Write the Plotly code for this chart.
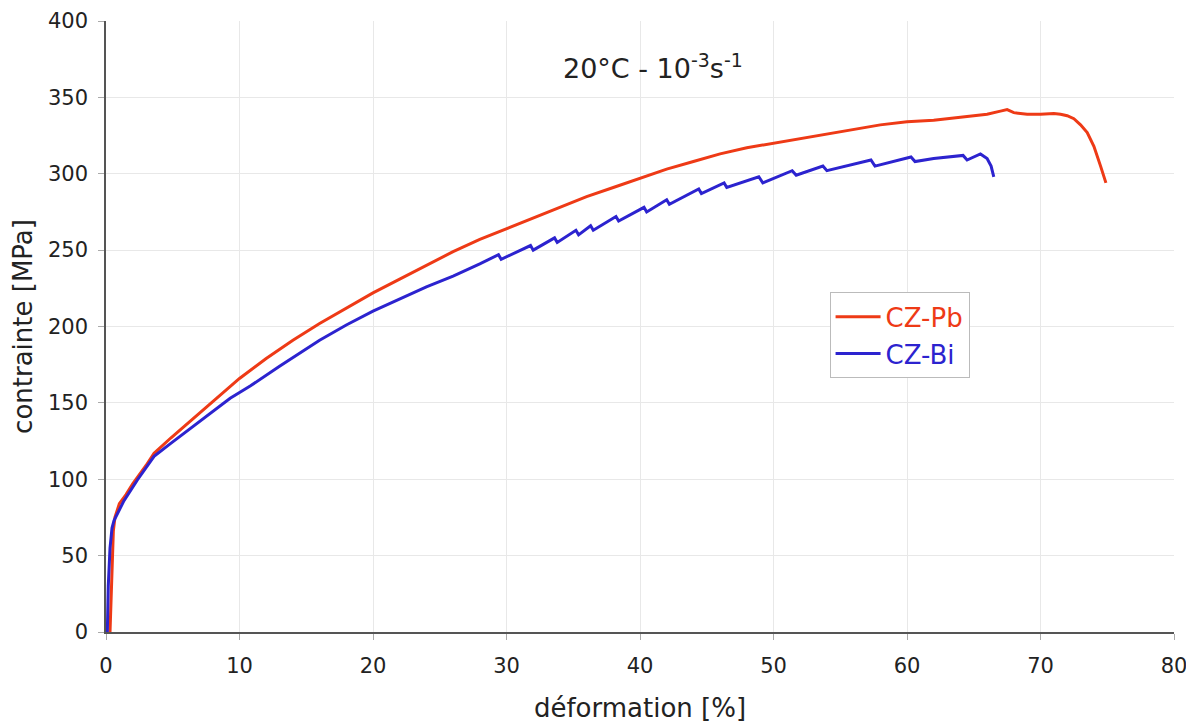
import plotly.graph_objects as go

# CZ-Pb (red) stress-strain curve
pb_strain = [0.3, 0.38, 0.45, 0.55, 0.67, 1.0, 1.5, 2, 3, 3.6, 4.85, 6.3, 7.6, 9, 10, 12, 14, 16, 18,
             20, 22, 24, 26, 28, 30, 32, 34, 36, 38, 40, 42, 44, 46, 48, 50, 52, 54, 56, 58, 60,
             62, 64, 66, 67, 67.5, 68, 69, 70, 71, 71.5, 72, 72.5, 73, 73.5, 74, 74.5, 74.9]
pb_stress = [0, 20, 45, 66, 75, 84, 90, 97, 109, 117, 127, 138, 148, 158, 166, 179, 191, 202, 212,
             222, 231, 240, 249, 257, 264, 271, 278, 285, 291, 297, 303, 308, 313, 317, 320, 323, 326, 329, 332, 334,
             335, 337, 339, 341, 342, 340, 339, 339, 339.5, 339, 338, 336, 332, 327, 318, 305, 294]

# CZ-Bi (blue) stress-strain curve (with serrations)
bi_strain = [0.1, 0.17, 0.3, 0.45, 0.6, 1.35, 2.35, 3.6, 4.85, 6.3, 7.84, 9.3, 10.8, 13, 16, 18, 20, 22, 24, 26,
             26.8, 28, 29.4, 29.6, 31.8, 32.0, 33.6, 33.8, 35.2, 35.4, 36.3, 36.5, 38.2, 38.4, 40.3, 40.5,
             42.0, 42.2, 44.4, 44.6, 46.3, 46.5, 48.9, 49.2, 51.4, 51.7, 53.7, 54.0, 57.3, 57.6, 60.3, 60.6,
             62, 64.2, 64.5, 65.5, 66.0, 66.3, 66.5]
bi_stress = [0, 30, 55, 68, 73, 86, 99.5, 115, 123.5, 133, 143, 153, 161, 174, 191, 201, 210, 218, 226, 233,
             236, 241, 247, 244, 253, 250, 258, 255, 263, 260, 266, 263, 272, 269, 278, 275,
             283, 280, 290, 287, 294, 291, 298, 294, 302, 299, 305, 302, 309, 305, 311, 308,
             310, 312, 309, 313, 310, 305, 298]

x_ticks = [0, 10, 20, 30, 40, 50, 60, 70, 80]
y_ticks = [0, 50, 100, 150, 200, 250, 300, 350, 400]

RED = "#ee3a16"
BLUE = "#2c23cf"
FONT = "DejaVu Sans"

fig = go.Figure()
fig.add_trace(go.Scatter(x=pb_strain, y=pb_stress, mode="lines",
                         line=dict(color=RED, width=3),
                         name=f"<span style='color:{RED}'>CZ-Pb</span>"))
fig.add_trace(go.Scatter(x=bi_strain, y=bi_stress, mode="lines",
                         line=dict(color=BLUE, width=3),
                         name=f"<span style='color:{BLUE}'>CZ-Bi</span>"))

fig.add_annotation(x=41, y=370, text="20°C - 10<sup>-3</sup>s<sup>-1</sup>", showarrow=False,
                   font=dict(family=FONT, size=27, color="#222"))

# page body has an 8px margin; compensate so the plot area lands where the reference has it
fig.update_layout(
    width=1186, height=716,
    margin=dict(l=98, r=20, t=13, b=92),
    paper_bgcolor="white", plot_bgcolor="white",
    font=dict(family=FONT, size=21, color="#222"),
    legend=dict(x=0.6775, y=0.556, xanchor="left", yanchor="top",
                bordercolor="#bbbbbb", borderwidth=1, bgcolor="white",
                font=dict(size=26), tracegroupgap=0, itemwidth=45),
    xaxis=dict(range=[0, 80], tickvals=x_ticks, showgrid=True, gridcolor="#e8e8e8",
               showline=True, linecolor="#555", linewidth=1.5, ticks="outside",
               ticklen=6, tickcolor="#aaa", zeroline=False, automargin=False,
               ticklabelstandoff=8,
               title=dict(text="déformation [%]", font=dict(size=26), standoff=22)),
    yaxis=dict(range=[0, 400], tickvals=y_ticks, showgrid=True, gridcolor="#e8e8e8",
               showline=True, linecolor="#555", linewidth=1.5, ticks="outside",
               ticklen=6, tickcolor="#aaa", zeroline=False, automargin=False,
               ticklabelstandoff=6,
               title=dict(text="contrainte [MPa]", font=dict(size=26), standoff=22)),
)

fig.write_html("out.html")
